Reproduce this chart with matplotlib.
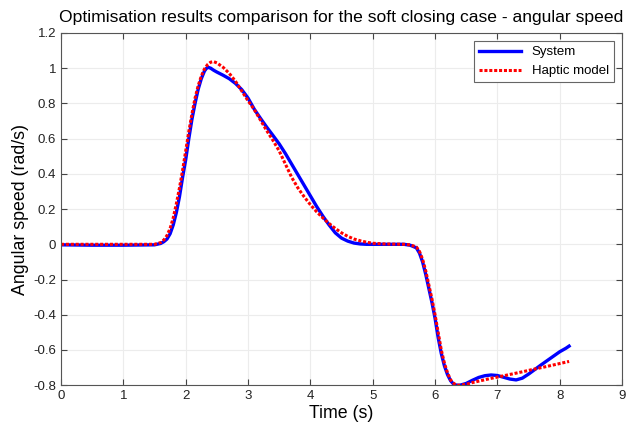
import matplotlib
matplotlib.use("Agg")
import matplotlib.pyplot as plt
from matplotlib.ticker import FuncFormatter

plt.rcParams['font.family'] = ['Liberation Sans', 'DejaVu Sans']

# System response (measured angular speed)
t_system = [0.0, 0.5, 1.0, 1.5, 1.6, 1.65, 1.7, 1.75, 1.8, 1.85, 1.9, 1.95, 2.0, 2.05,
            2.1, 2.15, 2.2, 2.25, 2.3, 2.33, 2.36, 2.4, 2.45, 2.5, 2.6, 2.7, 2.8, 2.9,
            3.0, 3.1, 3.2, 3.3, 3.4, 3.5, 3.6, 3.7, 3.8, 3.9, 4.0, 4.1, 4.2, 4.3, 4.4,
            4.5, 4.6, 4.7, 4.8, 4.9, 5.0, 5.5, 5.6, 5.7, 5.75, 5.8, 5.85, 5.9, 5.95,
            6.0, 6.05, 6.1, 6.15, 6.2, 6.25, 6.3, 6.35, 6.4, 6.5, 6.6, 6.7, 6.8, 6.9,
            7.0, 7.1, 7.2, 7.3, 7.4, 7.5, 7.6, 7.7, 7.8, 7.9, 8.0, 8.1, 8.15]
w_system = [-0.003, -0.005, -0.005, -0.003, 0.005, 0.015, 0.03, 0.06, 0.11, 0.18, 0.27,
            0.38, 0.48, 0.6, 0.71, 0.8, 0.88, 0.94, 0.983, 0.998, 1.005, 1.0, 0.988,
            0.978, 0.96, 0.94, 0.913, 0.878, 0.83, 0.767, 0.715, 0.665, 0.618, 0.57,
            0.515, 0.455, 0.395, 0.335, 0.275, 0.215, 0.16, 0.11, 0.065, 0.035, 0.018,
            0.007, 0.002, 0.0, 0.0, 0.0, -0.005, -0.02, -0.05, -0.1, -0.17, -0.25,
            -0.33, -0.42, -0.53, -0.62, -0.69, -0.74, -0.775, -0.795, -0.8, -0.8,
            -0.79, -0.772, -0.756, -0.746, -0.742, -0.745, -0.755, -0.765, -0.77,
            -0.76, -0.737, -0.711, -0.685, -0.66, -0.635, -0.61, -0.59, -0.578]

# Haptic model response
t_model = [0.0, 0.5, 1.0, 1.5, 1.6, 1.65, 1.7, 1.75, 1.8, 1.85, 1.9, 1.95, 2.0, 2.05,
           2.1, 2.15, 2.2, 2.25, 2.3, 2.35, 2.4, 2.45, 2.5, 2.6, 2.7, 2.8, 2.9, 3.0,
           3.1, 3.2, 3.3, 3.4, 3.5, 3.6, 3.7, 3.8, 3.9, 4.0, 4.1, 4.2, 4.3, 4.4, 4.5,
           4.6, 4.7, 4.8, 4.9, 5.0, 5.2, 5.5, 5.6, 5.7, 5.75, 5.8, 5.85, 5.9, 5.95,
           6.0, 6.05, 6.1, 6.15, 6.2, 6.25, 6.3, 6.35, 6.4, 6.5, 6.6, 6.7, 6.8, 6.9,
           7.0, 7.2, 7.4, 7.6, 7.8, 8.0, 8.15]
w_model = [0.0, 0.0, 0.0, 0.0, 0.01, 0.025, 0.05, 0.09, 0.15, 0.23, 0.32, 0.42, 0.53,
           0.64, 0.74, 0.83, 0.9, 0.955, 0.995, 1.02, 1.034, 1.037, 1.03, 1.005, 0.97,
           0.925, 0.87, 0.815, 0.765, 0.705, 0.645, 0.59, 0.53, 0.455, 0.38, 0.32,
           0.27, 0.225, 0.185, 0.15, 0.118, 0.09, 0.065, 0.045, 0.03, 0.02, 0.012,
           0.006, 0.002, 0.0, -0.003, -0.015, -0.04, -0.085, -0.15, -0.23, -0.31,
           -0.4, -0.5, -0.6, -0.675, -0.73, -0.77, -0.79, -0.8, -0.8, -0.795, -0.785,
           -0.777, -0.769, -0.761, -0.754, -0.739, -0.724, -0.708, -0.693, -0.677,
           -0.665]

x_ticks = list(range(0, 10))
y_ticks = [-0.8, -0.6, -0.4, -0.2, 0, 0.2, 0.4, 0.6, 0.8, 1, 1.2]

fig = plt.figure(figsize=(6.29, 4.28), dpi=100)
ax = fig.add_axes([0.097, 0.1, 0.892, 0.823])

ax.plot(t_system, w_system, color='#0000ff', lw=2.4, label='System')
ax.plot(t_model, w_model, color='#ff0000', lw=2.2, ls=(0, (1, 0.6)), label='Haptic model')

ax.set_xlim(0, 9)
ax.set_ylim(-0.8, 1.2)
ax.set_xticks(x_ticks)
ax.set_yticks(y_ticks)
ax.yaxis.set_major_formatter(FuncFormatter(lambda v, p: f"{v:g}"))
ax.grid(True, color='#ececec', lw=0.8)
ax.set_axisbelow(True)
ax.tick_params(direction='in', top=True, right=True, labelsize=9.5, length=4,
               color='#444444', labelcolor='#222222')
for s in ax.spines.values():
    s.set_color('#555555')
    s.set_linewidth(0.8)

ax.set_xlabel('Time (s)', fontsize=12.8, labelpad=2)
ax.set_ylabel('Angular speed (rad/s)', fontsize=12.8, labelpad=3)
ax.set_title('Optimisation results comparison for the soft closing case - angular speed',
             fontsize=12.6, pad=8)

leg = ax.legend(loc='upper right', fontsize=9.5, fancybox=False, framealpha=1,
                edgecolor='#666666', handlelength=3.2, borderaxespad=0.6)
leg.get_frame().set_linewidth(0.8)

fig.savefig('out.png', dpi=100)
